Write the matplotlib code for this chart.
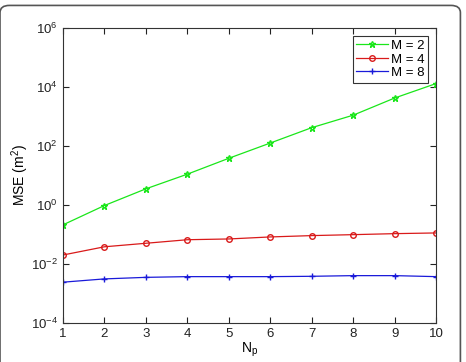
import matplotlib.pyplot as plt
from matplotlib.patches import FancyBboxPatch

plt.rcParams['font.family'] = ['Liberation Sans', 'DejaVu Sans']

np_vals = [1, 2, 3, 4, 5, 6, 7, 8, 9, 10]
mse_m2 = [0.21, 0.95, 3.5, 11, 38, 125, 415, 1100, 4200, 13000]
mse_m4 = [0.020, 0.038, 0.050, 0.066, 0.070, 0.082, 0.091, 0.098, 0.106, 0.112]
mse_m8 = [0.0024, 0.0031, 0.0035, 0.0037, 0.0037, 0.0037, 0.0038, 0.0040, 0.0040, 0.0037]

fig = plt.figure(figsize=(4.66, 3.62), dpi=100)
ax = fig.add_axes([0.135, 0.108, 0.801, 0.815])

# rounded frame around the figure
frame = FancyBboxPatch((0.0, -0.05), 0.988, 1.035, boxstyle="round,pad=0,rounding_size=0.02",
                       transform=fig.transFigure, fill=False, edgecolor='#555555', linewidth=1.2)
fig.patches.append(frame)

ax.semilogy(np_vals, mse_m2, '-*', color=(0.1, 0.9, 0.1), linewidth=0.9, markersize=5,
            markerfacecolor='none', label='M = 2')
ax.semilogy(np_vals, mse_m4, '-o', color=(0.85, 0.1, 0.1), linewidth=0.9, markersize=4,
            markerfacecolor='none', label='M = 4')
ax.semilogy(np_vals, mse_m8, '-+', color=(0.1, 0.1, 0.85), linewidth=0.9, markersize=5,
            label='M = 8')

ax.set_xlim(1, 10)
ax.set_ylim(1e-4, 1e6)
ax.set_xticks(np_vals)
ax.set_yticks([1e-4, 1e-2, 1e0, 1e2, 1e4, 1e6])
ax.minorticks_off()
ax.tick_params(direction='in', top=True, right=True, labelsize=9.5, colors='#222222', length=4.5)
for s in ax.spines.values():
    s.set_color('#333333')
    s.set_linewidth(0.8)

ax.set_xlabel('N$_\\mathregular{p}$', fontsize=10, labelpad=1)
ax.set_ylabel('MSE (m$^\\mathregular{2}$)', fontsize=10, labelpad=0)

leg = ax.legend(loc='upper right', fontsize=9.5, fancybox=False, edgecolor='black',
                handlelength=2.4, borderpad=0.3, labelspacing=0.1, handletextpad=0.2,
                borderaxespad=0.6)
leg.get_frame().set_linewidth(0.8)

fig.savefig('out.png', dpi=100)
